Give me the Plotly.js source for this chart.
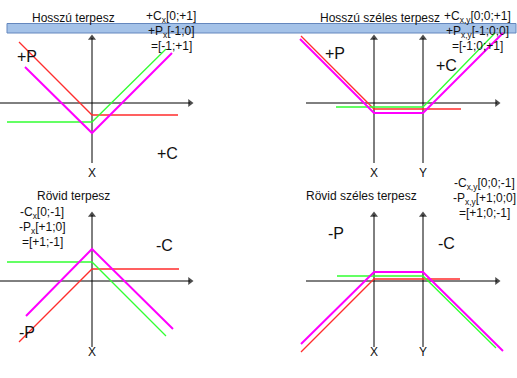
<!DOCTYPE html>
<html><head><meta charset="utf-8">
<script src="https://cdn.plot.ly/plotly-3.0.1.min.js"></script>
<style>html,body{margin:0;padding:0;background:#fff}#chart{width:517px;height:378px}</style>
</head><body><div id="chart"></div>
<script>
// ---- Data (payoff diagrams, units relative to strike X / zero line) ----
// Panel 1: Hosszú terpesz (long straddle)
const p1PutX  = [-73, 0, 86],  p1PutY  = [61, -12, -12];
const p1CallX = [-85, 0, 74],  p1CallY = [-19, -19, 54];
const p1SumX  = [-67, 0, 80],  p1SumY  = [36, -30, 50];
// Panel 2: Hosszú széles terpesz (long strangle), strikes X=0, Y=49
const p2PutX  = [-73, 0, 87],      p2PutY  = [67, -6, -6];
const p2CallX = [-38, 49, 121],    p2CallY = [-4, -4, 70];
const p2SumX  = [-74, 0, 49, 129], p2SumY  = [64, -10, -10, 70];
// Panel 3: Rövid terpesz (short straddle)
const p3PutX  = [-73, 0, 87],  p3PutY  = [-61, 12, 12];
const p3CallX = [-85, 0, 74],  p3CallY = [19, 19, -55];
const p3SumX  = [-66, 0, 81],  p3SumY  = [-35, 32, -48];
// Panel 4: Rövid széles terpesz (short strangle)
const p4PutX  = [-73, 0, 86],      p4PutY  = [-71, 2, 2];
const p4CallX = [-37, 49, 122],    p4CallY = [5, 5, -67];
const p4SumX  = [-73, 0, 49, 129], p4SumY  = [-63, 9, 9, -70];
// Strike positions (axis labels)
const strikesSingle = [0];
const strikesDouble = [0, 49];
const strikeLabelsSingle = ['X'];
const strikeLabelsDouble = ['X', 'Y'];
// Texts
const titles = ['Hosszú terpesz', 'Hosszú széles terpesz', 'Rövid terpesz', 'Rövid széles terpesz'];
const formulas1 = ['+C<sub>x</sub>[0;+1]', '+P<sub>x</sub>[-1;0]', '=[-1;+1]'];
const formulas2 = ['+C<sub>x,y</sub>[0;0;+1]', '+P<sub>x,y</sub>[-1;0;0]', '=[-1;0;+1]'];
const formulas3 = ['-C<sub>x</sub>[0;-1]', '-P<sub>x</sub>[+1;0]', '=[+1;-1]'];
const formulas4 = ['-C<sub>x,y</sub>[0;0;-1]', '-P<sub>x,y</sub>[+1;0;0]', '=[+1;0;-1]'];

// ---- Layout constants ----
const W = 517, H = 378;
const FONT = 'Liberation Sans, Arial, sans-serif';
const RED = 'rgb(255,45,45)', GREEN = 'rgb(50,255,50)', MAG = 'rgb(255,0,255)';
const panels = [
  {o:[92,103],  put:[p1PutX,p1PutY], call:[p1CallX,p1CallY], sum:[p1SumX,p1SumY], h:[-92,98],  v:[-60,65], strikes:strikesSingle, sl:strikeLabelsSingle, labY:-70},
  {o:[374,103], put:[p2PutX,p2PutY], call:[p2CallX,p2CallY], sum:[p2SumX,p2SumY], h:[-68,123], v:[-60,65], strikes:strikesDouble, sl:strikeLabelsDouble, labY:-70},
  {o:[92,281],  put:[p3PutX,p3PutY], call:[p3CallX,p3CallY], sum:[p3SumX,p3SumY], h:[-92,98],  v:[-66,66], strikes:strikesSingle, sl:strikeLabelsSingle, labY:-71},
  {o:[374,281], put:[p4PutX,p4PutY], call:[p4CallX,p4CallY], sum:[p4SumX,p4SumY], h:[-68,123], v:[-66,66], strikes:strikesDouble, sl:strikeLabelsDouble, labY:-71}
];

const traces = [], annotations = [], layout = {
  width: W, height: H, margin:{l:0,r:0,t:0,b:0},
  paper_bgcolor:'#fff', plot_bgcolor:'rgba(0,0,0,0)', showlegend:false,
  font:{family:FONT, color:'#111', size:12}
};

panels.forEach((p, i) => {
  const n = i === 0 ? '' : String(i+1);
  const xa = 'x'+n, ya = 'y'+n;
  const ox = p.o[0], oy = p.o[1];
  layout['xaxis'+n] = {domain:[0,1], range:[-ox, W-ox], visible:false, fixedrange:true, anchor:ya};
  layout['yaxis'+n] = {domain:[0,1], range:[oy-H, oy], visible:false, fixedrange:true, anchor:xa};
  // axis lines with arrowheads
  traces.push({x:p.h, y:[0,0], xaxis:xa, yaxis:ya, mode:'lines+markers', cliponaxis:false, hoverinfo:'skip',
    line:{color:'#000', width:1}, marker:{symbol:'triangle-right', size:[0,7], color:'#000', line:{width:0}}});
  p.strikes.forEach((s, k) => {
    traces.push({x:[s,s], y:p.v, xaxis:xa, yaxis:ya, mode:'lines+markers', cliponaxis:false, hoverinfo:'skip',
      line:{color:'#000', width:1}, marker:{symbol:'triangle-up', size:[0,7], color:'#000', line:{width:0}}});
    annotations.push({xref:xa, yref:ya, x:s, y:p.labY, text:p.sl[k], showarrow:false,
      xanchor:'center', yanchor:'middle', font:{size:12, family:FONT, color:'#111'}});
  });
  traces.push({x:p.put[0], y:p.put[1], xaxis:xa, yaxis:ya, mode:'lines', line:{color:RED, width:1.3}, cliponaxis:false, hoverinfo:'skip'});
  traces.push({x:p.call[0], y:p.call[1], xaxis:xa, yaxis:ya, mode:'lines', line:{color:GREEN, width:1.3}, cliponaxis:false, hoverinfo:'skip'});
  traces.push({x:p.sum[0], y:p.sum[1], xaxis:xa, yaxis:ya, mode:'lines', line:{color:MAG, width:2}, cliponaxis:false, hoverinfo:'skip'});
});

function txt(text, px, py, size) {
  annotations.push({xref:'paper', yref:'paper', x:px/W, y:1-py/H, text:text, showarrow:false,
    xanchor:'center', yanchor:'middle', font:{size:size||12, family:FONT, color:'#111'}});
}
// titles
txt(titles[0], 73, 18); txt(titles[1], 380, 18); txt(titles[2], 73, 196); txt(titles[3], 361, 196);
// formulas
[[formulas1,171,[17,32,46]],[formulas2,477,[17,32,46]],[formulas3,42,[213,228,242]],[formulas4,484,[184,199,213]]]
  .forEach(f => f[0].forEach((t,k) => txt(t, f[1], f[2][k])));
// big labels
txt('+P', 27, 56, 16); txt('+C', 167, 153, 16);
txt('+P', 335, 53, 16); txt('+C', 446, 65, 16);
txt('-C', 164, 245, 16); txt('-P', 27, 332, 16);
txt('-P', 336, 233, 16); txt('-C', 446, 243, 16);

layout.annotations = annotations;
layout.shapes = [{type:'rect', xref:'paper', yref:'paper', x0:7/W, x1:516/W, y0:1-33/H, y1:1-23.5/H,
  fillcolor:'rgb(164,194,232)', line:{color:'rgb(100,135,190)', width:1}, layer:'below'}];

Plotly.newPlot('chart', traces, layout, {staticPlot:true, displayModeBar:false});
</script></body></html>
